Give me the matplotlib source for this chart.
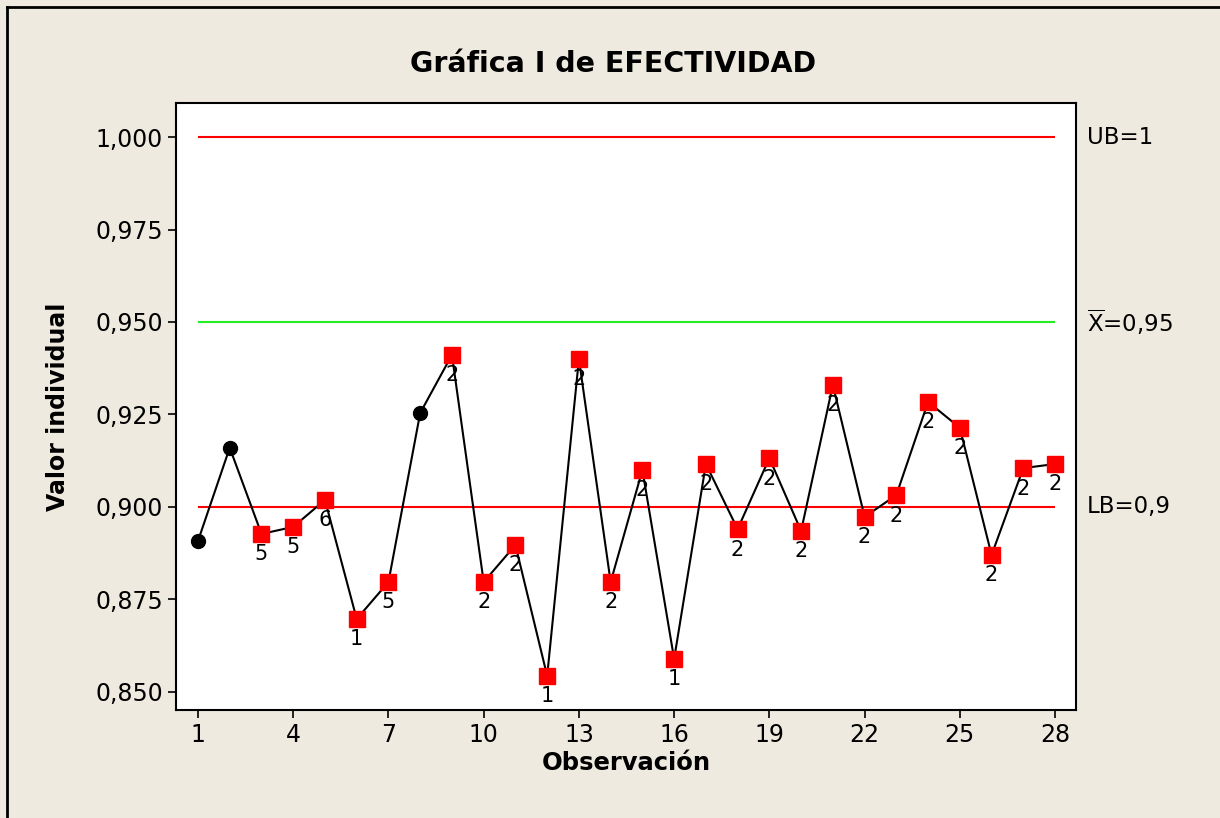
import matplotlib.pyplot as plt
from matplotlib.lines import Line2D

# ---------------- DATA ----------------
obs = list(range(1, 29))
valores = [0.8908, 0.9160, 0.8927, 0.8946, 0.9019, 0.8697, 0.8797, 0.9254,
           0.9411, 0.8797, 0.8897, 0.8543, 0.9400, 0.8797, 0.9100, 0.8589,
           0.9116, 0.8940, 0.9132, 0.8935, 0.9330, 0.8973, 0.9032, 0.9284,
           0.9214, 0.8870, 0.9105, 0.9116]
pruebas = ["", "", "5", "5", "6", "1", "5", "", "2", "2", "2", "1", "2", "2",
           "2", "1", "2", "2", "2", "2", "2", "2", "2", "2", "2", "2", "2", "2"]
UB = 1.0
media = 0.95
LB = 0.9
yticks = [0.850, 0.875, 0.900, 0.925, 0.950, 0.975, 1.000]
xticks = [1, 4, 7, 10, 13, 16, 19, 22, 25, 28]

# ---------------- PLOT ----------------
plt.rcParams['font.family'] = ['DejaVu Sans']
BG = '#EEEAE0'

fig = plt.figure(figsize=(12.2, 8.18), dpi=100, facecolor=BG)
ax = fig.add_axes([176/1220, 1 - 710/818, 900/1220, 607/818])
ax.set_facecolor('white')

ax.hlines([UB, LB], obs[0], obs[-1], color='#FF0000', lw=1.5, zorder=1)
ax.hlines(media, obs[0], obs[-1], color='#22EE22', lw=1.5, zorder=1)

ax.plot(obs, valores, color='black', lw=1.5, zorder=2)

for x, y, p in zip(obs, valores, pruebas):
    if p:
        ax.plot(x, y, marker='s', ms=11, color='#FF0000', mec='#FF0000', zorder=3)
        ax.annotate(p, (x, y), xytext=(0, -7.5), textcoords='offset points',
                    ha='center', va='top', fontsize=15, zorder=4)
    else:
        ax.plot(x, y, marker='o', ms=10, color='black', zorder=3)

ax.set_xlim(0.307, 28.66)
ax.set_ylim(0.8451, 1.0092)
ax.set_xticks(xticks)
ax.set_yticks(yticks)
ax.set_yticklabels([f"{v:.3f}".replace('.', ',') for v in yticks])
ax.tick_params(direction='out', length=6, width=1.2, labelsize=17)
for s in ax.spines.values():
    s.set_linewidth(1.5)

ax.set_xlabel('Observación', fontsize=17.5, fontweight='bold', labelpad=3)
ax.set_ylabel('Valor individual', fontsize=17, fontweight='bold', labelpad=18)
fig.text(613/1220, 1 - 64/818, 'Gráfica I de EFECTIVIDAD', fontsize=20.5,
         fontweight='bold', ha='center', va='center')

# labels on the right
tr = ax.get_yaxis_transform()
ax.text(1.012, UB, 'UB=1', transform=tr, va='center', ha='left', fontsize=16.5)
ax.text(1.012, media, r'$\overline{\mathregular{X}}$=0,95', transform=tr,
        va='center', ha='left', fontsize=16.5)
ax.text(1.012, LB, 'LB=0,9', transform=tr, va='center', ha='left', fontsize=16.5)

# outer frame (top and left edges visible)
fig.add_artist(Line2D([7/1220, 1.0], [1 - 7/818, 1 - 7/818], color='black', lw=2,
                      transform=fig.transFigure))
fig.add_artist(Line2D([7/1220, 7/1220], [0.0, 1 - 7/818], color='black', lw=2,
                      transform=fig.transFigure))

fig.savefig('out.png', dpi=100, facecolor=BG)
